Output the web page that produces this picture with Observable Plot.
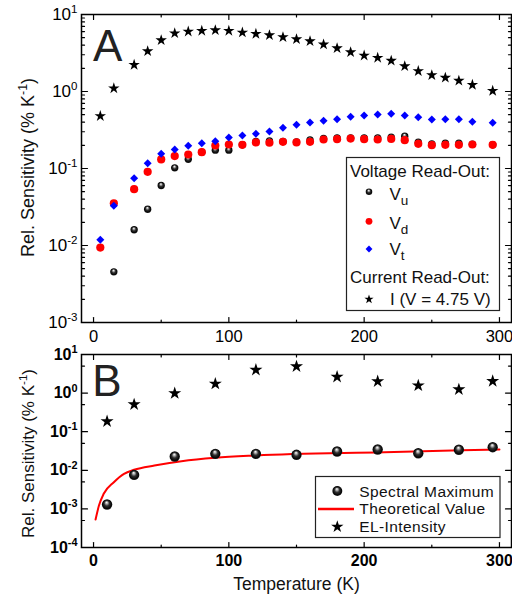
<!DOCTYPE html>
<html><head><meta charset="utf-8">
<script src="https://cdn.jsdelivr.net/npm/d3@7"></script>
<script src="https://cdn.jsdelivr.net/npm/@observablehq/plot@0.6"></script>
<style>
html,body{margin:0;padding:0;background:#fff;}
#wrap{position:relative;width:512px;height:599px;overflow:hidden;font-family:"Liberation Sans",Arial,sans-serif;}
#wrap > svg{position:absolute;left:0;margin:0;}
</style></head><body><div id="wrap"></div>
<script>
// ---------------- data: panel A ----------------
const tempA = [5,15,30,40,50,60,70,80,90,100,110,120,130,140,150,160,170,180,190,200,210,220,230,240,250,260,270,280,295];
const currentI = [0.48,1.10,2.22,3.34,4.64,5.71,6.01,6.14,6.25,6.14,5.84,5.61,5.39,5.08,4.78,4.50,4.08,3.65,3.24,2.93,2.74,2.51,2.13,1.84,1.63,1.51,1.38,1.22,1.02];
const voltT = [0.0119,0.0328,0.0748,0.117,0.155,0.177,0.197,0.213,0.226,0.253,0.268,0.282,0.302,0.338,0.370,0.396,0.416,0.437,0.469,0.488,0.503,0.513,0.488,0.464,0.433,0.437,0.437,0.404,0.392];
const voltD = [0.0094,0.0354,0.0539,0.0906,0.131,0.145,0.152,0.163,0.199,0.205,0.203,0.218,0.216,0.222,0.218,0.222,0.238,0.240,0.245,0.240,0.238,0.242,0.233,0.209,0.201,0.203,0.203,0.205,0.203];
const tempU = [15,30,40,50,60,70,80,90,100,110,120,130,140,150,160,170,180,190,200,210,220,230,240,250,260,270,280,295];
const voltU = [0.00455,0.0160,0.0296,0.0601,0.102,0.132,0.163,0.173,0.173,0.203,0.224,0.228,0.224,0.222,0.235,0.245,0.250,0.250,0.250,0.250,0.255,0.263,0.220,0.209,0.213,0.213,0.207,0.203];

// ---------------- data: panel B ----------------
const tempB = [10,30,60,90,120,150,180,210,240,270,295];
const spectralMax = [0.0013,0.0076,0.0228,0.0267,0.0267,0.0252,0.0307,0.0346,0.0277,0.0341,0.0397];
const elIntensity = [0.184,0.507,0.99,1.74,4.0,4.89,2.64,2.0,1.57,1.24,2.03];
const theoryT = [1.5,4,7.5,15,22.5,30,45,65,90,120,215,300];
const theoryS = [0.00053,0.00122,0.00246,0.00492,0.00811,0.0103,0.0133,0.0172,0.0211,0.0242,0.0294,0.0346];

// ---------------- axes ----------------
const xMajor = [0,100,200,300];
const xMinor = [50,150,250];
const xTickLabels = ["0","100","200","300"];
const yMajorA = [1e-3,1e-2,1e-1,1,10];
const yLabelsA = ["10^-3","10^-2","10^-1","10^0","10^1"];
const yMinorMantissa = [2,3,4,5,6,7,8,9];
const yMinorA = [-3,-2,-1,0].flatMap(e => yMinorMantissa.map(m => m * Math.pow(10, e)));
const yMajorB = [1e-4,1e-3,1e-2,1e-1,1,10];
const yLabelsB = ["10^-4","10^-3","10^-2","10^-1","10^0","10^1"];
const yMinorB = [-4,-3,-2,-1,0].map(e => 5 * Math.pow(10, e));
const yTitle = "Rel. Sensitivity (% K^-1)";
const xTitle = "Temperature (K)";

const ptsA = tempA.map((t,i) => ({t, I: currentI[i], Vt: voltT[i], Vd: voltD[i]}));
const ptsU = tempU.map((t,i) => ({t, v: voltU[i]}));
const ptsB = tempB.map((t,i) => ({t, s: spectralMax[i], el: elIntensity[i]}));
const theory = theoryT.map((t,i) => ({t, v: theoryS[i]}));

const font = '"Liberation Sans", Arial, sans-serif';
const xDomain = [-8.9, 308.9];
const tickShape = {draw(c, l){ c.moveTo(0,0); c.lineTo(0,-l); }};
function yTicks(vals, len){
  return ["left","right"].map(side => Plot.vector(vals, {y: d => d, frameAnchor: side, rotate: side === "left" ? 90 : -90,
    length: len, anchor: "start", shape: tickShape, stroke: "#000", strokeWidth: 1.2}));
}
function xTicks(vals, len){
  return ["top","bottom"].map(side => Plot.vector(vals, {x: d => d, frameAnchor: side, rotate: side === "top" ? 180 : 0,
    length: len, anchor: "start", shape: tickShape, stroke: "#000", strokeWidth: 1.2}));
}
const baseStyle = {fontFamily: font, fontSize: "16px", color: "#000", background: "transparent", overflow: "visible"};

const plotA = Plot.plot({
  width: 512, height: 345, marginLeft: 81, marginRight: 1, marginTop: 14, marginBottom: 23,
  style: baseStyle,
  x: {domain: xDomain},
  y: {type: "log", domain: [1e-3, 10]},
  marks: [
    ...yTicks(yMajorA, 6), ...yTicks(yMinorA, 3), ...xTicks(xMajor, 5), ...xTicks(xMinor, 2.5),
    Plot.axisY(yMajorA, {anchor: "left", tickSize: 0, tickPadding: 4, tickFormat: d => yLabelsA[yMajorA.indexOf(d)], fontSize: 17, label: null}),
    Plot.axisX(xMajor, {anchor: "bottom", tickSize: 0, tickPadding: 8, tickFormat: d => xTickLabels[xMajor.indexOf(d)], fontSize: 16.5, label: null}),
    Plot.frame({stroke: "#000", strokeWidth: 1.5}),
    Plot.dot(ptsU, {x: "t", y: "v", r: 3.7, fill: "url(#ball)"}),
    Plot.dot(ptsA, {x: "t", y: "Vd", r: 4.1, fill: "#ff0000"}),
    Plot.dot(ptsA, {x: "t", y: "Vt", r: 3.6, symbol: "diamond2", fill: "#0000ff"}),
    Plot.dot(ptsA, {x: "t", y: "I", r: 3.6, symbol: "star", fill: "#000"}),
    Plot.text([yTitle], {text: d => d, frameAnchor: "left", textAnchor: "middle", lineAnchor: "middle", rotate: -90, dx: -53, dy: -1, fontSize: 18, fill: "#111"}),
    Plot.text(["A"], {text: d => d, frameAnchor: "top-left", textAnchor: "start", lineAnchor: "top", dx: 11.5, dy: 14.8, fontSize: 44, fill: "#222"})
  ]
});

const plotB = Plot.plot({
  width: 512, height: 254, marginLeft: 81, marginRight: 1, marginTop: 9, marginBottom: 52,
  style: baseStyle,
  x: {domain: xDomain},
  y: {type: "log", domain: [1e-4, 10]},
  marks: [
    ...yTicks(yMajorB, 6), ...yTicks(yMinorB, 3), ...xTicks(xMajor, 5), ...xTicks(xMinor, 2.5),
    Plot.axisY(yMajorB, {anchor: "left", tickSize: 0, tickPadding: 4, tickFormat: d => yLabelsB[yMajorB.indexOf(d)], fontSize: 16, fontWeight: "bold", label: null}),
    Plot.axisX(xMajor, {anchor: "bottom", tickSize: 0, tickPadding: 7.5, tickFormat: d => xTickLabels[xMajor.indexOf(d)], fontSize: 16, fontWeight: "bold", label: null}),
    Plot.frame({stroke: "#000", strokeWidth: 1.5}),
    Plot.line(theory, {x: "t", y: "v", stroke: "#ff0000", strokeWidth: 2, curve: "monotone-x"}),
    Plot.dot(ptsB, {x: "t", y: "s", r: 5.2, fill: "url(#ball)"}),
    Plot.dot(ptsB, {x: "t", y: "el", r: 4.1, symbol: "star", fill: "#000"}),
    Plot.text([yTitle], {text: d => d, frameAnchor: "left", textAnchor: "middle", lineAnchor: "middle", rotate: -90, dx: -53, dy: 2.5, fontSize: 17, fill: "#111"}),
    Plot.text(["B"], {text: d => d, frameAnchor: "top-left", textAnchor: "start", lineAnchor: "top", dx: 10.8, dy: 9.8, fontSize: 44, fill: "#222"}),
    Plot.text([xTitle], {text: d => d, frameAnchor: "bottom", textAnchor: "middle", lineAnchor: "middle", dy: 37, fontSize: 17.5, fill: "#111"})
  ]
});

const wrap = document.getElementById("wrap");
plotA.style.top = "0px";
plotB.style.top = "345px";
wrap.appendChild(plotA);
wrap.appendChild(plotB);

// superscripts in Plot texts
const SVGNS = "http://www.w3.org/2000/svg";
function supify(svg){
  d3.select(svg).selectAll("text").each(function(){
    const s = this.textContent;
    const m = s.match(/^(.*?)\^(-?\d+)(.*)$/);
    if (!m) return;
    const fs = parseFloat(getComputedStyle(this).fontSize) || 16;
    const small = fs * 0.68, raise = fs * 0.42;
    this.textContent = m[1];
    const sup = document.createElementNS(SVGNS, "tspan");
    sup.setAttribute("dy", -raise); sup.setAttribute("font-size", small); sup.textContent = m[2];
    this.appendChild(sup);
    if (m[3]) {
      const r = document.createElementNS(SVGNS, "tspan");
      r.setAttribute("dy", raise); r.textContent = m[3];
      this.appendChild(r);
    }
  });
}
supify(plotA); supify(plotB);

// overlay: gradient defs + legends
const ov = d3.select(wrap).append("svg").attr("width", 512).attr("height", 599)
  .style("top", "0px").style("pointer-events", "none").style("font-family", font);
const grad = ov.append("defs").append("radialGradient").attr("id", "ball")
  .attr("cx", 0.5).attr("cy", 0.5).attr("r", 0.5).attr("fx", 0.45).attr("fy", 0.28);
[[0,"#ffffff"],[0.22,"#b0b0b0"],[0.5,"#303030"],[0.85,"#050505"],[1,"#202020"]].forEach(([o,c]) =>
  grad.append("stop").attr("offset", o).attr("stop-color", c));

// Legend A
const gA = ov.append("g");
gA.append("rect").attr("x", 346.5).attr("y", 157.5).attr("width", 153).attr("height", 153)
  .attr("fill", "#fff").attr("stroke", "#222").attr("stroke-width", 1.2);
const legA = [
  {text: "Voltage Read-Out:", x: 350, y: 177},
  {text: "V", sub: "u", x: 389.5, y: 200, mark: "ball", my: 191.7},
  {text: "V", sub: "d", x: 389.5, y: 228.7, mark: "red", my: 221.3},
  {text: "V", sub: "t", x: 389.5, y: 255, mark: "diamond", my: 249},
  {text: "Current Read-Out:", x: 350, y: 282.7},
  {text: "I (V = 4.75 V)", x: 390, y: 305, mark: "star", my: 299.3}
];
legA.forEach(e => {
  const t = gA.append("text").attr("x", e.x).attr("y", e.y).attr("font-size", 17).attr("fill", "#111").text(e.text);
  if (e.sub) t.append("tspan").attr("dy", 5).attr("font-size", 13.5).text(e.sub);
  if (e.mark === "ball") gA.append("circle").attr("cx", 369).attr("cy", e.my).attr("r", 3.3).attr("fill", "url(#ball)");
  if (e.mark === "red") gA.append("circle").attr("cx", 369).attr("cy", e.my).attr("r", 3.4).attr("fill", "#ff0000");
  if (e.mark === "diamond") gA.append("path").attr("transform", `translate(369,${e.my})`).attr("d", d3.symbol(d3.symbolDiamond2, Math.PI*3.1*3.1)()).attr("fill", "#0000ff");
  if (e.mark === "star") gA.append("path").attr("transform", `translate(369,${e.my})`).attr("d", d3.symbol(d3.symbolStar, Math.PI*2.9*2.9)()).attr("fill", "#000");
});

// Legend B
const gB = ov.append("g");
gB.append("rect").attr("x", 315.5).attr("y", 476.5).attr("width", 184.5).attr("height", 61)
  .attr("fill", "#fff").attr("stroke", "#222").attr("stroke-width", 1.2);
gB.append("circle").attr("cx", 337.3).attr("cy", 491).attr("r", 5).attr("fill", "url(#ball)");
gB.append("line").attr("x1", 318).attr("x2", 354).attr("y1", 509).attr("y2", 509).attr("stroke", "#ff0000").attr("stroke-width", 2.5);
gB.append("path").attr("transform", "translate(337.3,526.7)").attr("d", d3.symbol(d3.symbolStar, Math.PI*3.9*3.9)()).attr("fill", "#000");
[["Spectral Maximum", 496.5],["Theoretical Value", 514.3],["EL-Intensity", 532]].forEach(([s,y]) =>
  gB.append("text").attr("x", 359.3).attr("y", y).attr("font-size", 15.5).attr("letter-spacing", 0.4).attr("fill", "#111").text(s));
</script></body></html>
